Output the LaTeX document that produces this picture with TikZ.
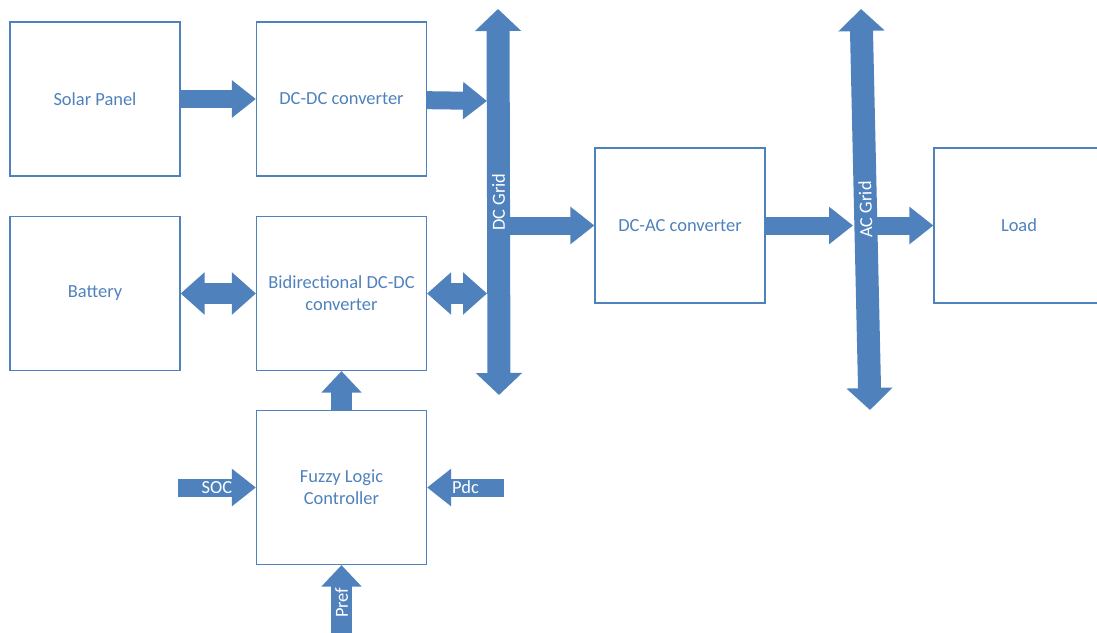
\documentclass[tikz,border=0pt]{standalone}
\usepackage{fontspec}
\setmainfont{Carlito}
\usetikzlibrary{arrows.meta}
\definecolor{accent}{HTML}{4F81BD}

\tikzset{
  blockbox/.style={draw=accent, line width=0.7pt, text=accent, align=center,
    minimum width=3.4cm, minimum height=3.08cm,
    font=\fontsize{10.5}{12.5}\selectfont},
  flow/.style={draw=accent, line width=0.36cm,
    -{Triangle[width=0.72cm,length=0.48cm]}},
  fatflow/.style={draw=accent, line width=0.42cm,
    -{Triangle[width=0.78cm,length=0.43cm]}},
  twoway/.style={draw=accent, line width=0.42cm,
    {Triangle[width=0.82cm,length=0.48cm]}-{Triangle[width=0.82cm,length=0.48cm]}},
  bus/.style={draw=accent, line width=0.46cm,
    {Triangle[width=0.9cm,length=0.44cm]}-{Triangle[width=0.9cm,length=0.44cm]}},
  arrowtext/.style={text=white, font=\fontsize{10.5}{12.5}\selectfont, inner sep=0pt}
}

\begin{document}
\begin{tikzpicture}[x=0.02cm, y=-0.02cm]
	%% page size
	\useasboundingbox (0,0) rectangle (1097,632);
	\clip (0,0) rectangle (1097,632);

	% blocks
	\node[blockbox] (solar) at (95,99) {Solar Panel};
	\node[blockbox] (dcdc) at (341.5,99) {DC-DC converter};
	\node[blockbox] (battery) at (95,293.5) {Battery};
	\node[blockbox] (bidir) at (341.5,293.5) {Bidirectional DC-DC\\converter};
	\node[blockbox] (fuzzy) at (341.5,487.5) {Fuzzy Logic\\Controller};
	\node[blockbox, minimum height=3.1cm] (dcac) at (680,225.5) {DC-AC converter};
	\node[blockbox, minimum height=3.1cm] (load) at (1019,225.5) {Load};

	% the two grids
	\coordinate (dctop) at (498,9);
	\coordinate (dcbot) at (499,395);
	\coordinate (actop) at (861,9);
	\coordinate (acbot) at (870,410);
	\draw[bus] (dcbot) -- (dctop) node[pos=0.5, sloped, allow upside down, arrowtext] {DC Grid};
	\draw[bus] (acbot) -- (actop) node[pos=0.5, sloped, allow upside down, arrowtext] {AC Grid};

	% points on the grids
	\coordinate (dcin1) at (487,101);
	\coordinate (dcin2) at (487,293.5);
	\coordinate (dcout) at (509,225.5);
	\coordinate (acin) at (853,225.5);
	\coordinate (acout) at (875,225.5);

	% power flow
	\draw[flow] (solar) -- (dcdc);
	\draw[flow] (dcdc) -- (dcin1);
	\draw[twoway] (battery) -- (bidir);
	\draw[twoway] (bidir) -- (dcin2);
	\draw[flow] (dcout) -- (dcac);
	\draw[flow] (dcac) -- (acin);
	\draw[flow] (acout) -- (load);

	% controller inputs
	\coordinate (socin) at ([xshift=-1.56cm]fuzzy.west);
	\coordinate (pdcin) at ([xshift=1.54cm]fuzzy.east);
	\coordinate (prefin) at ([yshift=-1.5cm]fuzzy.south);
	\draw[fatflow] (fuzzy) -- (bidir);
	\draw[flow] (socin) -- (fuzzy) node[midway, arrowtext] {SOC};
	\draw[flow] (pdcin) -- (fuzzy) node[midway, arrowtext] {Pdc};
	\draw[fatflow] (prefin) -- (fuzzy) node[midway, sloped, arrowtext] {Pref};
\end{tikzpicture}
\end{document}
